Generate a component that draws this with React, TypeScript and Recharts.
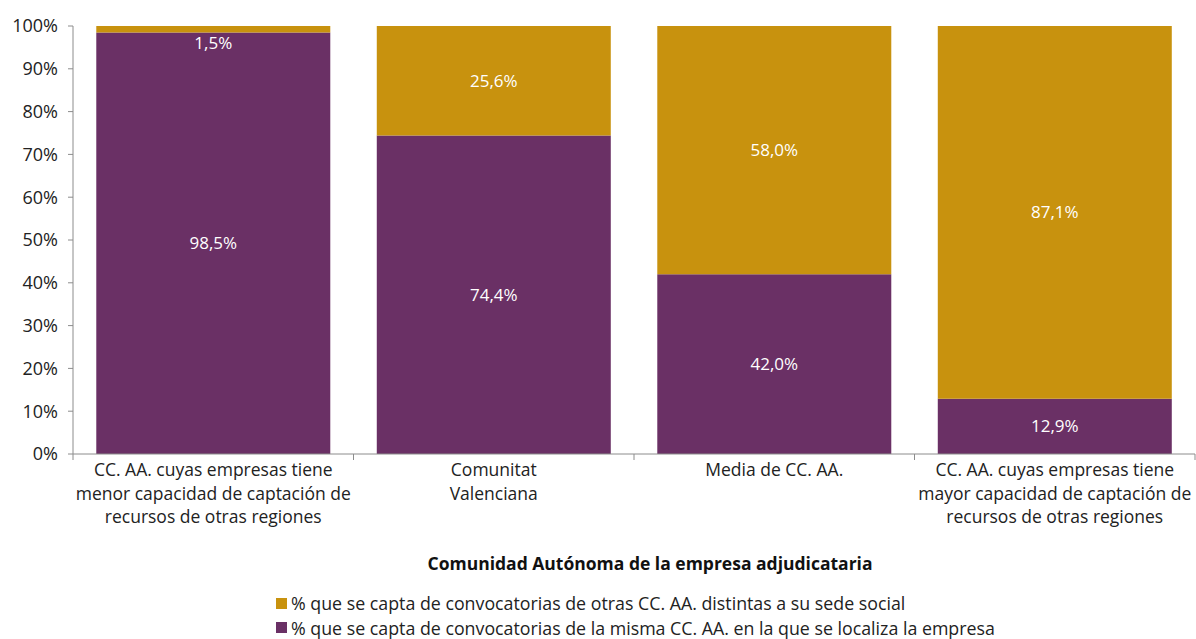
import { BarChart, Bar, XAxis, YAxis, LabelList } from 'recharts';

// Datos del gráfico
const categories = [
  'CC. AA. cuyas empresas tiene\nmenor capacidad de captación de\nrecursos de otras regiones',
  'Comunitat\nValenciana',
  'Media de CC. AA.',
  'CC. AA. cuyas empresas tiene\nmayor capacidad de captación de\nrecursos de otras regiones',
];
const mismaCCAA = [98.5, 74.4, 42.0, 12.9];
const otrasCCAA = [1.5, 25.6, 58.0, 87.1];
const yTicks = [0, 10, 20, 30, 40, 50, 60, 70, 80, 90, 100];

const legendOtras = '% que se capta de convocatorias de otras CC. AA. distintas a su sede social';
const legendMisma = '% que se capta de convocatorias de la misma CC. AA. en la que se localiza la empresa';
const axisTitle = 'Comunidad Autónoma de la empresa adjudicataria';

const PURPLE = '#6A3065';
const GOLD = '#C8920E';
const AXIS = '#8C8C8C';
const FONT = '"Open Sans", "Noto Sans", sans-serif';

const W = 1196;
const H = 639;
const PLOT_LEFT = 73;
const PLOT_RIGHT = 1195;
const BAND = (PLOT_RIGHT - PLOT_LEFT) / categories.length;

const data = categories.map((name, i) => ({
  name,
  misma: mismaCCAA[i],
  otras: otrasCCAA[i],
}));

const fmt = (v: number) => v.toFixed(1).replace('.', ',') + '%';

const XTick = (props: any) => {
  const { x, y, payload, index } = props;
  const lines = String(payload.value).split('\n');
  return (
    <g>
      <line x1={x - BAND / 2} x2={x - BAND / 2} y1={y} y2={y + 6} stroke={AXIS} />
      {index === categories.length - 1 && (
        <line x1={x + BAND / 2} x2={x + BAND / 2} y1={y} y2={y + 6} stroke={AXIS} />
      )}
      <text x={x} y={y + 22} textAnchor="middle" fill="#222" fontSize={17.5} fontFamily={FONT}>
        {lines.map((l, i) => (
          <tspan key={i} x={x} dy={i === 0 ? 0 : 23.5}>
            {l}
          </tspan>
        ))}
      </text>
    </g>
  );
};

// Etiqueta: si el segmento es muy pequeño se coloca debajo, dentro del otro
const SegLabel = (props: any) => {
  const { x, y, width, height, value } = props;
  const cy = height < 20 ? y + height + 11 : y + height / 2;
  return (
    <text
      x={x + width / 2}
      y={cy}
      dy={6}
      textAnchor="middle"
      fill="#ffffff"
      fontSize={17}
      fontFamily={FONT}
    >
      {fmt(value)}
    </text>
  );
};

export default function App() {
  return (
    <div style={{ position: 'absolute', left: 0, top: 0, width: W, height: H, background: '#fff', fontFamily: FONT }}>
      <BarChart
        width={W}
        height={H}
        data={data}
        margin={{ top: 26, right: W - PLOT_RIGHT, left: 0, bottom: 0 }}
        barCategoryGap="8.3%"
      >
        <XAxis
          dataKey="name"
          interval={0}
          height={H - 26 - 428}
          tickSize={0}
          tickMargin={0}
          tickLine={false}
          axisLine={{ stroke: AXIS }}
          tick={<XTick />}
        />
        <YAxis
          width={PLOT_LEFT}
          domain={[0, 100]}
          ticks={yTicks}
          tickFormatter={(v: number) => v + '%'}
          tickSize={5}
          tickMargin={10}
          axisLine={{ stroke: AXIS }}
          tickLine={{ stroke: AXIS }}
          tick={{ fill: '#222', fontSize: 18, fontFamily: FONT }}
        />
        <Bar dataKey="misma" stackId="a" fill={PURPLE} isAnimationActive={false}>
          <LabelList dataKey="misma" content={<SegLabel />} />
        </Bar>
        <Bar dataKey="otras" stackId="a" fill={GOLD} isAnimationActive={false}>
          <LabelList dataKey="otras" content={<SegLabel />} />
        </Bar>
      </BarChart>

      <div
        style={{
          position: 'absolute',
          left: 0,
          width: 1300,
          top: 551,
          textAlign: 'center',
          fontWeight: 700,
          fontSize: 17.5,
          lineHeight: '24px',
          color: '#111',
        }}
      >
        {axisTitle}
      </div>

      <div style={{ position: 'absolute', left: 276, top: 592, fontSize: 17.8, color: '#222', lineHeight: '22px' }}>
        {[
          { c: GOLD, t: legendOtras },
          { c: PURPLE, t: legendMisma },
        ].map((it, i) => (
          <div key={it.t} style={{ display: 'flex', alignItems: 'center', marginTop: i === 0 ? 0 : 2.5 }}>
            <span style={{ display: 'inline-block', width: 11, height: 11, background: it.c, marginRight: 4 }} />
            <span>{it.t}</span>
          </div>
        ))}
      </div>
    </div>
  );
}
